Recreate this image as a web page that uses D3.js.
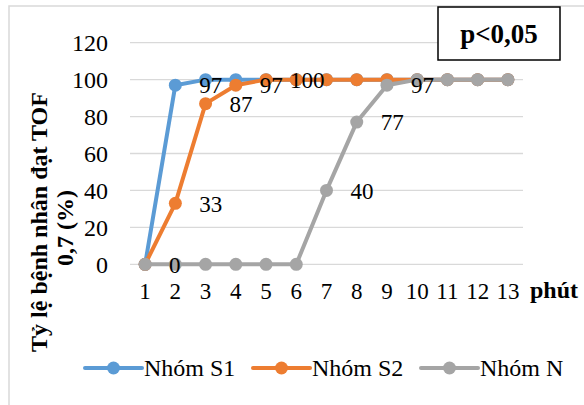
<!DOCTYPE html>
<html>
<head>
<meta charset="utf-8">
<script src="https://cdn.jsdelivr.net/npm/d3@7"></script>
<style>
  body { margin: 0; background: #fff; }
  svg { display: block; }
  svg text { font-family: "Liberation Serif", "DejaVu Serif", serif; }
</style>
</head>
<body>
<div id="chart"></div>
<script>
const WIDTH = 584;
const HEIGHT = 405;

// data
const minutes = [1, 2, 3, 4, 5, 6, 7, 8, 9, 10, 11, 12, 13];
const nhomS1 = [0, 97, 100, 100, 100, 100, 100, 100, 100, 100, 100, 100, 100];
const nhomS2 = [0, 33, 87, 97, 100, 100, 100, 100, 100, 100, 100, 100, 100];
const nhomN = [0, 0, 0, 0, 0, 0, 40, 77, 97, 100, 100, 100, 100];
const seriesNames = ["Nhóm S1", "Nhóm S2", "Nhóm N"];
const yTicks = [0, 20, 40, 60, 80, 100, 120];
// which points carry a visible value label
const labelS1 = [2];
const labelS2 = [2, 3, 4, 5];
const labelN = [1, 7, 8, 9];

const COLORS = ["#5b9bd5", "#ed7d31", "#a5a5a5"];

const SVG = d3.select("#chart").append("svg")
  .attr("width", WIDTH)
  .attr("height", HEIGHT);

SVG.append("rect")
  .attr("width", WIDTH).attr("height", HEIGHT)
  .attr("fill", "#fff");

// outer chart frame
SVG.append("rect")
  .attr("x", 9).attr("y", 6)
  .attr("width", WIDTH + 10).attr("height", HEIGHT + 10)
  .attr("fill", "none")
  .attr("stroke", "#d9d9d9")
  .attr("stroke-width", 1.5);

const escalaX = d3.scaleBand()
  .domain(minutes)
  .range([130, 523]);

const escalaY = d3.scaleLinear()
  .domain([0, 120])
  .range([264.3, 42.7]);

const cx = d => escalaX(d) + escalaX.bandwidth() / 2;

// gridlines
SVG.append("g")
  .selectAll("line")
  .data(yTicks)
  .join("line")
  .attr("x1", 130).attr("x2", 523)
  .attr("y1", d => escalaY(d)).attr("y2", d => escalaY(d))
  .attr("stroke", "#d9d9d9")
  .attr("stroke-width", 1.3);

// y axis tick labels
const ejeY = d3.axisLeft(escalaY).tickValues(yTicks).tickSize(0).tickPadding(0);
const gEjeY = SVG.append("g")
  .attr("transform", "translate(108,0)")
  .call(ejeY)
  .attr("font-family", null);
gEjeY.select(".domain").remove();
gEjeY.selectAll("text")
  .attr("font-size", 24)
  .attr("dy", "0.33em")
  .attr("fill", "#000");

// x axis tick labels
const ejeX = d3.axisBottom(escalaX).tickSize(0).tickPadding(0);
const gEjeX = SVG.append("g")
  .attr("transform", "translate(0,283)")
  .call(ejeX)
  .attr("font-family", null);
gEjeX.select(".domain").remove();
gEjeX.selectAll("text")
  .attr("font-size", 23)
  .attr("fill", "#000");

SVG.append("text")
  .attr("x", 530).attr("y", 298)
  .attr("font-size", 24)
  .attr("font-weight", "bold")
  .text("phút");

// y axis title (two lines)
const titulo = SVG.append("text")
  .attr("transform", "translate(0,222) rotate(-90)")
  .attr("text-anchor", "middle")
  .attr("font-size", 24)
  .attr("font-weight", "bold");
titulo.append("tspan").attr("x", 0).attr("y", 47).text("Tỷ lệ bệnh nhân đạt TOF");
titulo.append("tspan").attr("x", -6).attr("y", 73).text("0,7 (%)");

// series
const series = [nhomS1, nhomS2, nhomN].map((vals, i) => ({
  name: seriesNames[i],
  color: COLORS[i],
  points: vals.map((v, j) => ({ x: minutes[j], y: v }))
}));

const linea = d3.line().x(d => cx(d.x)).y(d => escalaY(d.y));

const contenedorSeries = SVG.append("g");
series.forEach(s => {
  const g = contenedorSeries.append("g");
  g.append("path")
    .attr("d", linea(s.points))
    .attr("fill", "none")
    .attr("stroke", s.color)
    .attr("stroke-width", 4)
    .attr("stroke-linejoin", "round");
  g.selectAll("circle")
    .data(s.points)
    .join("circle")
    .attr("cx", d => cx(d.x))
    .attr("cy", d => escalaY(d.y))
    .attr("r", 6.5)
    .attr("fill", s.color);
});

// value labels, drawn above all lines
const etiquetas = [];
[labelS1, labelS2, labelN].forEach((lista, i) => {
  lista.forEach(m => {
    const p = series[i].points.find(d => d.x === m);
    etiquetas.push(p);
  });
});

SVG.append("g")
  .selectAll("text")
  .data(etiquetas)
  .join("text")
  .attr("x", d => cx(d.x) + 24)
  .attr("y", d => escalaY(d.y))
  .attr("dy", "0.36em")
  .attr("font-size", 23)
  .attr("fill", "#000")
  .text(d => d.y);

// legend
const leyendaX = [85, 253, 421];
const leyenda = SVG.append("g")
  .selectAll("g")
  .data(series)
  .join("g")
  .attr("transform", (d, i) => `translate(${leyendaX[i]},368)`);
leyenda.append("line")
  .attr("x1", 0).attr("x2", 57)
  .attr("stroke", d => d.color)
  .attr("stroke-width", 4)
  .attr("stroke-linecap", "round");
leyenda.append("circle")
  .attr("cx", 28.5).attr("r", 6.5)
  .attr("fill", d => d.color);
leyenda.append("text")
  .attr("x", 59).attr("y", 8)
  .attr("font-size", 24)
  .attr("fill", "#000")
  .text(d => d.name);

// p-value box
SVG.append("rect")
  .attr("x", 438).attr("y", 7)
  .attr("width", 122).attr("height", 53)
  .attr("fill", "#fff")
  .attr("stroke", "#000")
  .attr("stroke-width", 1.5);
SVG.append("text")
  .attr("x", 499).attr("y", 43)
  .attr("text-anchor", "middle")
  .attr("font-size", 27)
  .attr("font-weight", "bold")
  .text("p<0,05");
</script>
</body>
</html>
